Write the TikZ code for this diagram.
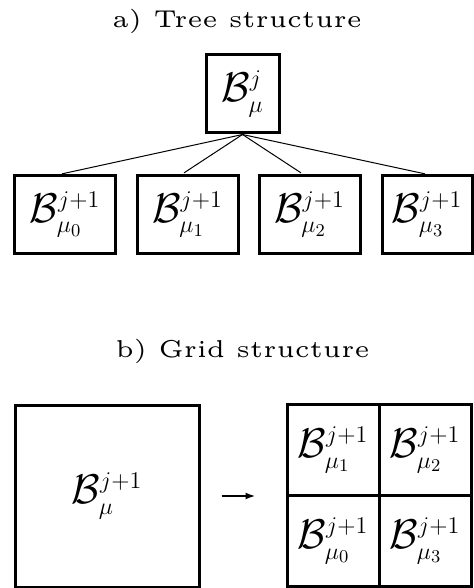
\documentclass[tikz,border=0pt]{standalone}
\usepackage{amsmath}
\usepackage{fontspec}
\newfontfamily\headfont{lmroman5-regular}[Extension=.otf]
\DeclareMathSizes{20}{20}{13}{9.5}
\usetikzlibrary{arrows.meta}

\begin{document}
\begin{tikzpicture}[x=0.5pt,y=-0.5pt,
        every node/.style={inner sep=0pt},
        blk/.style={draw,line width=1.5pt,font=\fontsize{20}{24}\selectfont},
        leaf/.style={blk,minimum width=50.5pt,minimum height=38.5pt},
        cell/.style={blk,minimum width=46pt,minimum height=45.5pt},
        headtext/.style={anchor=base,font=\headfont\fontsize{12.2}{14}\selectfont}]
        \useasboundingbox (0,0) rectangle (474,588);
        % a) tree
        \node [headtext] (treehead) at (237,27.5) {a) Tree structure};
        \node [blk,minimum width=36.5pt,minimum height=39pt] (root) at (242.5,94) {$\mathcal{B}^j_\mu$};
        \node [leaf] (c0) at (65,214.5) {$\mathcal{B}^{j+1}_{\mu_0}$};
        \node [leaf] (c1) at (187.5,214.5) {$\mathcal{B}^{j+1}_{\mu_1}$};
        \node [leaf] (c2) at (309.5,214.5) {$\mathcal{B}^{j+1}_{\mu_2}$};
        \node [leaf,minimum width=45pt] (c3) at (427,214.5) {$\mathcal{B}^{j+1}_{\mu_3}$};
        \foreach \i/\dx in {0/-3,1/-3,2/-3,3/0.5}
                \draw [line width=0.5pt,shorten >=1.5pt] (root.south) -- ([xshift=\dx]c\i.north);
        % b) grid
        \node [headtext] (gridhead) at (242.5,357.5) {b) Grid structure};
        \node [blk,minimum width=92pt,minimum height=91pt] (big) at (107,496) {$\mathcal{B}^{j+1}_\mu$};
        \node [cell] (g1) at (333,450) {$\mathcal{B}^{j+1}_{\mu_1}$};
        \node [cell] (g2) at (425,450) {$\mathcal{B}^{j+1}_{\mu_2}$};
        \node [cell] (g0) at (333,541) {$\mathcal{B}^{j+1}_{\mu_0}$};
        \node [cell] (g3) at (425,541) {$\mathcal{B}^{j+1}_{\mu_3}$};
        \draw [-{Latex[length=5pt,width=3.5pt]},line width=0.9pt,shorten <=10.5pt,shorten >=15pt] (big.east) -- (big.east -| g1.west);
\end{tikzpicture}
\end{document}
